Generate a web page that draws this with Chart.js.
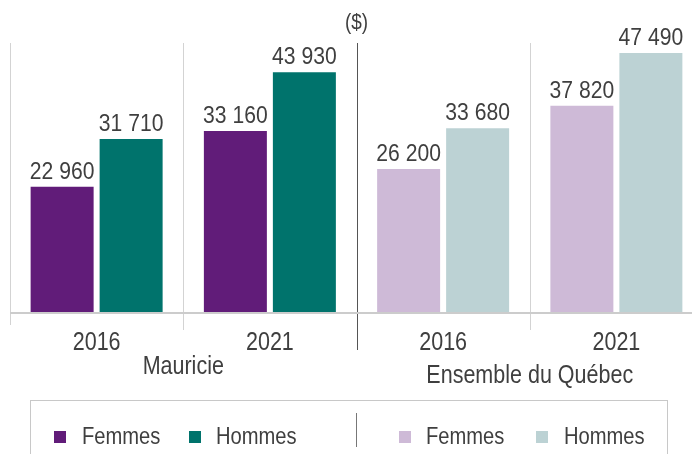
<!DOCTYPE html>
<html>
<head>
<meta charset="utf-8">
<script src="https://cdn.jsdelivr.net/npm/chart.js@4/dist/chart.umd.min.js"></script>
<style>
html,body{margin:0;padding:0;overflow:hidden;background:#fff;width:692px;height:454px;}
canvas{display:block;}
</style>
</head>
<body>
<canvas id="c" width="703" height="454"></canvas>
<script>
const categories = ['2016', '2021', '2016', '2021'];
const groups = ['Mauricie', 'Ensemble du Québec'];
const seriesNames = ['Femmes', 'Hommes'];
const femmes = [22960, 33160, 26200, 37820];
const hommes = [31710, 43930, 33680, 47490];
const femmesColors = ['#611c79', '#611c79', '#cebad7', '#cebad7'];
const hommesColors = ['#00736c', '#00736c', '#bcd2d4', '#bcd2d4'];
const unitLabel = '($)';

const FONT = "'Liberation Sans', Arial, sans-serif";
const TXT = '#3f3f3f';
const fmt = v => String(v).replace(/\B(?=(\d{3})+(?!\d))/g, ' ');

function txt(ctx, s, x, y, sx, align) {
  ctx.save();
  ctx.translate(x, y);
  ctx.scale(sx, 1);
  ctx.textAlign = align || 'center';
  ctx.fillText(s, 0, 0);
  ctx.restore();
}

const decor = {
  id: 'decor',
  beforeDatasetsDraw(chart) {
    const ctx = chart.ctx, x = chart.scales.x, a = chart.chartArea;
    const half = x.width / categories.length / 2;
    ctx.save();
    for (let i = 0; i <= categories.length; i++) {
      const bx = (i < categories.length ? x.getPixelForValue(i) - half : x.right);
      const px = Math.round(bx) + 0.5;
      const mid = i === categories.length / 2;
      ctx.strokeStyle = mid ? '#555555' : '#d3d3d3';
      ctx.lineWidth = 1;
      ctx.beginPath();
      ctx.moveTo(px, a.top);
      ctx.lineTo(px, mid ? 350 : (i === 0 ? 325 : 330));
      ctx.stroke();
    }
    ctx.restore();
  },
  afterDatasetsDraw(chart) {
    const ctx = chart.ctx, x = chart.scales.x, a = chart.chartArea;
    ctx.save();
    ctx.strokeStyle = '#cccccc';
    ctx.lineWidth = 2;
    ctx.beginPath();
    ctx.moveTo(a.left, a.bottom + 1);
    ctx.lineTo(a.right, a.bottom + 1);
    ctx.stroke();
    ctx.fillStyle = TXT;
    ctx.textBaseline = 'alphabetic';
    ctx.font = '24px ' + FONT;
    chart.data.datasets.forEach((ds, di) => {
      chart.getDatasetMeta(di).data.forEach((bar, i) => {
        txt(ctx, fmt(ds.data[i]), bar.x, bar.y - 8, 0.88);
      });
    });
    ctx.font = '25px ' + FONT;
    categories.forEach((c, i) => txt(ctx, c, x.getPixelForValue(i), 350, 0.86));
    const g0 = (x.getPixelForValue(0) + x.getPixelForValue(1)) / 2;
    const g1 = (x.getPixelForValue(2) + x.getPixelForValue(3)) / 2;
    txt(ctx, groups[0], g0, 374, 0.86);
    txt(ctx, groups[1], g1, 383, 0.86);
    ctx.font = '22px ' + FONT;
    const midX = (x.getPixelForValue(1) + x.getPixelForValue(2)) / 2;
    txt(ctx, unitLabel, midX, 29, 0.86);
    // legend
    ctx.strokeStyle = '#c8c8c8';
    ctx.lineWidth = 1;
    ctx.strokeRect(30.5, 400.5, 637, 100);
    ctx.strokeStyle = '#777777';
    ctx.beginPath();
    ctx.moveTo(356.5, 413);
    ctx.lineTo(356.5, 447);
    ctx.stroke();
    const items = [
      {c: femmesColors[0], t: seriesNames[0], sx: 54, tx: 82},
      {c: hommesColors[0], t: seriesNames[1], sx: 189, tx: 216},
      {c: femmesColors[2], t: seriesNames[0], sx: 399, tx: 426},
      {c: hommesColors[2], t: seriesNames[1], sx: 536, tx: 564}
    ];
    ctx.font = '24px ' + FONT;
    items.forEach(it => {
      ctx.fillStyle = it.c;
      ctx.fillRect(it.sx, 431, 12, 12);
      ctx.fillStyle = TXT;
      txt(ctx, it.t, it.tx, 444, 0.84, 'left');
    });
    ctx.restore();
  }
};

new Chart(document.getElementById('c'), {
  type: 'bar',
  data: {
    labels: categories,
    datasets: [
      {label: seriesNames[0], data: femmes, backgroundColor: femmesColors},
      {label: seriesNames[1], data: hommes, backgroundColor: hommesColors}
    ]
  },
  options: {
    responsive: false,
    animation: false,
    devicePixelRatio: 1,
    layout: {padding: {left: 10, right: 0, top: 43, bottom: 142}},
    categoryPercentage: 0.7965,
    barPercentage: 0.913,
    plugins: {legend: {display: false}, tooltip: {enabled: false}},
    scales: {
      x: {display: false},
      y: {display: false, min: 0, max: 49300}
    }
  },
  plugins: [decor]
});
</script>
</body>
</html>
